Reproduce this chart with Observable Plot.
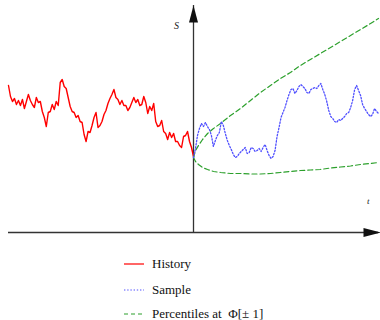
<!DOCTYPE html>
<html><head><meta charset="utf-8">
<script src="https://cdn.jsdelivr.net/npm/d3@7"></script>
<script src="https://cdn.jsdelivr.net/npm/@observablehq/plot@0.6"></script>
<style>
body{margin:0;background:#fff;}
#wrap{position:relative;width:380px;height:320px;overflow:hidden;}
.row{position:absolute;left:124px;height:16px;display:flex;align-items:center;font-family:'Liberation Serif','Times New Roman',Times,serif;font-size:13px;color:#111;white-space:pre;}
.row svg{margin-right:8px;}
</style></head><body><div id="wrap"></div>
<script>
// History path S values, equally spaced in time over t in [-1, 0]
const historyS = [147,136,131,134,128,132,127,133,124,131,138,132,128,125,135,130,131,121,115,106,120,121,128,123,131,127,
  150,153,146,144,135,126,121,120,115,117,111,110,98,91,101,100,107,115,120,105,107,111,118,122,129,
  134,138,143,135,133,128,132,127,127,122,125,130,135,130,133,127,128,136,130,119,126,122,129,111,106,
  107,112,101,99,93,100,95,99,91,91,87,85,96,97,101,91,85,76];
// Sample path S values, equally spaced in time over t in [0, 1]
const sampleS = [75,84,97,104,109,106,110,106,103,97,
  86,92,97,100,111,107,99,92,87,83,
  78,75,76,79,81,83,85,79,80,85,
  84,81,82,84,81,85,88,82,77,74,
  76,82,96,105,115,120,125,132,138,143,
  144,139,142,146,148,146,144,140,139,143,
  144,145,144,147,149,143,138,131,122,116,
  114,111,110,113,112,114,116,119,120,125,
  132,143,147,142,137,128,124,121,118,116,
  118,124,121,119];
// Percentile curves
const pctT = [0,0.011,0.027,0.049,0.076,0.108,0.146,0.2,0.254,0.308,0.362,0.416,0.47,0.524,0.578,0.632,0.686,0.741,0.795,0.849,0.903,0.957,1.0];
const upperS = [75,82,87,93,99,104,109,117,124,132,140,147,154,160,167,173,179,185,191,197,203,209,214];
const lowerS = [75,71,68,65,63,61,60,59,59,58.5,58.5,59,60,61,62,62.5,63,64.5,65.5,66.5,68,69,70];
const legendLabels = ["History", "Sample", "Percentiles at  \u03A6[\u00B1 1]"];
const axisLabels = ["S", "t"];

const hist = historyS.map((s, i) => ({t: -1 + i / (historyS.length - 1), s}));
const samp = sampleS.map((s, i) => ({t: i / (sampleS.length - 1), s}));
const up = pctT.map((t, i) => ({t, s: upperS[i]}));
const lo = pctT.map((t, i) => ({t, s: lowerS[i]}));

const arrowUp = {draw(ctx) { ctx.moveTo(0, 0); ctx.lineTo(-4.5, 17); ctx.lineTo(4.5, 17); ctx.closePath(); }};
const arrowRight = {draw(ctx) { ctx.moveTo(2, 0); ctx.lineTo(-15, -4.5); ctx.lineTo(-15, 4.5); ctx.closePath(); }};

const green = "#2ca02c";
const blue = "#5050ff";
const plot = Plot.plot({
  width: 380, height: 240,
  marginLeft: 8, marginRight: 2, marginTop: 5, marginBottom: 8,
  x: {domain: [-1, 1], axis: null},
  y: {domain: [0, 227], axis: null},
  style: {background: "transparent"},
  marks: [
    Plot.ruleX([0], {stroke: "#333", strokeWidth: 1.3}),
    Plot.ruleY([0], {stroke: "#333", strokeWidth: 1.3}),
    Plot.dot([0], {frameAnchor: "top", symbol: arrowUp, fill: "#111", stroke: "none"}),
    Plot.dot([0], {frameAnchor: "bottom-right", symbol: arrowRight, fill: "#111", stroke: "none"}),
    Plot.line(hist, {x: "t", y: "s", stroke: "#ff0000", strokeWidth: 1.4}),
    Plot.line(up, {x: "t", y: "s", stroke: green, strokeWidth: 1.2, strokeDasharray: "5 3"}),
    Plot.line(lo, {x: "t", y: "s", stroke: green, strokeWidth: 1.2, strokeDasharray: "5 3"}),
    Plot.line(samp, {x: "t", y: "s", stroke: blue, strokeWidth: 1.3, strokeDasharray: "1.4 1.8"}),
    Plot.text([axisLabels[0]], {text: d => d, frameAnchor: "top", dx: -17, dy: 16, fontStyle: "italic", fontFamily: "Liberation Serif", fontSize: 10, fill: "#222"}),
    Plot.text([axisLabels[1]], {text: d => d, frameAnchor: "bottom-right", dx: -9, dy: -29, fontStyle: "italic", fontFamily: "Liberation Serif", fontSize: 9, fill: "#222"})
  ]
});
const wrap = document.getElementById("wrap");
plot.style.position = "absolute"; plot.style.left = "0"; plot.style.top = "0";
wrap.appendChild(plot);

const styles = [
  {stroke: "#ff0000", dash: null},
  {stroke: blue, dash: "1.4 1.8"},
  {stroke: green, dash: "4 3"}
];
const tops = [256, 282, 306];
legendLabels.forEach((lab, i) => {
  const row = document.createElement("div");
  row.className = "row";
  row.style.top = tops[i] + "px";
  const svg = d3.create("svg").attr("width", 20).attr("height", 10);
  svg.append("line").attr("x1", 0).attr("x2", 20).attr("y1", 5).attr("y2", 5)
    .attr("stroke", styles[i].stroke).attr("stroke-width", 1.2)
    .attr("stroke-dasharray", styles[i].dash);
  row.appendChild(svg.node());
  const span = document.createElement("span");
  span.textContent = lab;
  span.style.fontFamily = "'Liberation Serif', serif";
  row.appendChild(span);
  wrap.appendChild(row);
});
</script>
</body></html>
